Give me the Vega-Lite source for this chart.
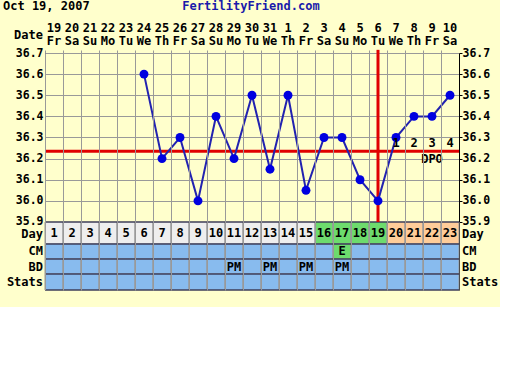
{
  "$schema": "https://vega.github.io/schema/vega-lite/v6.json",
  "width": 414,
  "height": 237,
  "autosize": {"type": "none"},
  "padding": {"left": 45, "top": 53, "right": 41, "bottom": 17},
  "background": "#FFFFCC",
  "config": {
    "view": {"stroke": null},
    "axis": {"labelOverlap": false},
    "text": {"font": "DejaVu Sans Mono", "fontWeight": "bold", "fontSize": 12, "color": "#000000", "baseline": "middle"}
  },
  "datasets": {
    "days": [
      {"day": 1, "date": "19", "dow": "Fr", "phase": "pre", "cm": "", "bd": "", "dpo": ""},
      {"day": 2, "date": "20", "dow": "Sa", "phase": "pre", "cm": "", "bd": "", "dpo": ""},
      {"day": 3, "date": "21", "dow": "Su", "phase": "pre", "cm": "", "bd": "", "dpo": ""},
      {"day": 4, "date": "22", "dow": "Mo", "phase": "pre", "cm": "", "bd": "", "dpo": ""},
      {"day": 5, "date": "23", "dow": "Tu", "phase": "pre", "cm": "", "bd": "", "dpo": ""},
      {"day": 6, "date": "24", "dow": "We", "phase": "pre", "cm": "", "bd": "", "dpo": ""},
      {"day": 7, "date": "25", "dow": "Th", "phase": "pre", "cm": "", "bd": "", "dpo": ""},
      {"day": 8, "date": "26", "dow": "Fr", "phase": "pre", "cm": "", "bd": "", "dpo": ""},
      {"day": 9, "date": "27", "dow": "Sa", "phase": "pre", "cm": "", "bd": "", "dpo": ""},
      {"day": 10, "date": "28", "dow": "Su", "phase": "pre", "cm": "", "bd": "", "dpo": ""},
      {"day": 11, "date": "29", "dow": "Mo", "phase": "pre", "cm": "", "bd": "PM", "dpo": ""},
      {"day": 12, "date": "30", "dow": "Tu", "phase": "pre", "cm": "", "bd": "", "dpo": ""},
      {"day": 13, "date": "31", "dow": "We", "phase": "pre", "cm": "", "bd": "PM", "dpo": ""},
      {"day": 14, "date": "1", "dow": "Th", "phase": "pre", "cm": "", "bd": "", "dpo": ""},
      {"day": 15, "date": "2", "dow": "Fr", "phase": "pre", "cm": "", "bd": "PM", "dpo": ""},
      {"day": 16, "date": "3", "dow": "Sa", "phase": "fertile", "cm": "", "bd": "", "dpo": ""},
      {"day": 17, "date": "4", "dow": "Su", "phase": "fertile", "cm": "E", "bd": "PM", "dpo": ""},
      {"day": 18, "date": "5", "dow": "Mo", "phase": "fertile", "cm": "", "bd": "", "dpo": ""},
      {"day": 19, "date": "6", "dow": "Tu", "phase": "fertile", "cm": "", "bd": "", "dpo": ""},
      {"day": 20, "date": "7", "dow": "We", "phase": "post", "cm": "", "bd": "", "dpo": "1"},
      {"day": 21, "date": "8", "dow": "Th", "phase": "post", "cm": "", "bd": "", "dpo": "2"},
      {"day": 22, "date": "9", "dow": "Fr", "phase": "post", "cm": "", "bd": "", "dpo": "3"},
      {"day": 23, "date": "10", "dow": "Sa", "phase": "post", "cm": "", "bd": "", "dpo": "4"}
    ],
    "temps": [
      {"day": 6, "temp": 36.6},
      {"day": 7, "temp": 36.2},
      {"day": 8, "temp": 36.3},
      {"day": 9, "temp": 36.0},
      {"day": 10, "temp": 36.4},
      {"day": 11, "temp": 36.2},
      {"day": 12, "temp": 36.5},
      {"day": 13, "temp": 36.15},
      {"day": 14, "temp": 36.5},
      {"day": 15, "temp": 36.05},
      {"day": 16, "temp": 36.3},
      {"day": 17, "temp": 36.3},
      {"day": 18, "temp": 36.1},
      {"day": 19, "temp": 36.0},
      {"day": 20, "temp": 36.3},
      {"day": 21, "temp": 36.4},
      {"day": 22, "temp": 36.4},
      {"day": 23, "temp": 36.5}
    ]
  },
  "resolve": {"scale": {"y": "independent"}},
  "layer": [
    {
      "data": {"name": "temps"},
      "mark": {"type": "point", "opacity": 0},
      "encoding": {
        "y": {"field": "temp", "type": "quantitative", "scale": {"domain": [35.5781, 36.7], "nice": false, "zero": false},
              "axis": {"orient": "left", "values": [35.9, 36.0, 36.1, 36.2, 36.3, 36.4, 36.5, 36.6, 36.7], "format": ".1f", "grid": true, "gridColor": "#999999", "gridOpacity": 1, "ticks": false, "labelPadding": 2, "domainColor": "#000000", "labelFont": "DejaVu Sans Mono", "labelFontWeight": "bold", "labelFontSize": 11.5, "labelColor": "#000000", "labelOverlap": false, "title": null}}
      }
    },
    {
      "layer": [
        {
          "data": {"name": "days"},
          "mark": {"type": "rect", "stroke": "#999999", "strokeWidth": 1},
          "encoding": {
            "x": {"field": "day", "type": "ordinal", "scale": {"type": "band", "paddingInner": 0, "paddingOuter": 0},
                  "axis": {"orient": "top", "grid": true, "bandPosition": 0, "gridColor": "#999999", "gridOpacity": 1, "ticks": true, "tickColor": "#999999", "tickSize": 3, "labels": false, "domain": false, "title": null}},
            "y": {"datum": 35.9, "type": "quantitative", "scale": {"domain": [35.5781, 36.7], "nice": false, "zero": false}, "axis": null},
            "y2": {"datum": 35.7959},
            "color": {"field": "phase", "type": "nominal", "scale": {"domain": ["pre", "fertile", "post", "", "E"], "range": ["#EEEEEE", "#6DDB6D", "#FFCC99", "#88BBEE", "#6DDB6D"]}, "legend": null}
          }
        },
        {
          "data": {"name": "days"},
          "mark": {"type": "rect", "stroke": "#999999", "strokeWidth": 1},
          "encoding": {
            "x": {"field": "day", "type": "ordinal"},
            "y": {"datum": 35.7959, "type": "quantitative", "axis": null},
            "y2": {"datum": 35.7249},
            "color": {"field": "cm", "type": "nominal", "legend": null}
          }
        },
        {
          "data": {"name": "days"},
          "mark": {"type": "rect", "stroke": "#999999", "strokeWidth": 1, "fill": "#88BBEE"},
          "encoding": {
            "x": {"field": "day", "type": "ordinal"},
            "y": {"datum": 35.7249, "type": "quantitative", "axis": null},
            "y2": {"datum": 35.6538}
          }
        },
        {
          "data": {"name": "days"},
          "mark": {"type": "rect", "stroke": "#999999", "strokeWidth": 1, "fill": "#88BBEE"},
          "encoding": {
            "x": {"field": "day", "type": "ordinal"},
            "y": {"datum": 35.6538, "type": "quantitative", "axis": null},
            "y2": {"datum": 35.5781}
          }
        },
        {"data": {"values": [{}]}, "mark": {"type": "rule", "color": "#10103A", "strokeWidth": 1.2}, "encoding": {"y": {"datum": 35.9, "type": "quantitative", "axis": null}}},
        {"data": {"values": [{}]}, "mark": {"type": "rule", "color": "#10103A", "strokeWidth": 1.2}, "encoding": {"y": {"datum": 35.7959, "type": "quantitative", "axis": null}}},
        {"data": {"values": [{}]}, "mark": {"type": "rule", "color": "#10103A", "strokeWidth": 1.2}, "encoding": {"y": {"datum": 35.7249, "type": "quantitative", "axis": null}}},
        {"data": {"values": [{}]}, "mark": {"type": "rule", "color": "#10103A", "strokeWidth": 1.2}, "encoding": {"y": {"datum": 35.6538, "type": "quantitative", "axis": null}}},
        {"data": {"values": [{}]}, "mark": {"type": "rule", "color": "#10103A", "strokeWidth": 1.2}, "encoding": {"y": {"datum": 35.5781, "type": "quantitative", "axis": null}}},
        {
          "data": {"name": "days"},
          "mark": {"type": "text", "align": "center"},
          "encoding": {
            "x": {"field": "day", "type": "ordinal", "bandPosition": 0.5},
            "y": {"datum": 35.848, "type": "quantitative", "axis": null},
            "text": {"field": "day"}
          }
        },
        {
          "data": {"name": "days"},
          "transform": [{"filter": "datum.cm != ''"}],
          "mark": {"type": "text", "align": "center"},
          "encoding": {
            "x": {"field": "day", "type": "ordinal", "bandPosition": 0.5},
            "y": {"datum": 35.7604, "type": "quantitative", "axis": null},
            "text": {"field": "cm"}
          }
        },
        {
          "data": {"name": "days"},
          "transform": [{"filter": "datum.bd != ''"}],
          "mark": {"type": "text", "align": "center"},
          "encoding": {
            "x": {"field": "day", "type": "ordinal", "bandPosition": 0.5},
            "y": {"datum": 35.689, "type": "quantitative", "axis": null},
            "text": {"field": "bd"}
          }
        },
        {"data": {"values": [{}]}, "mark": {"type": "rule", "color": "#E00000", "strokeWidth": 3}, "encoding": {"y": {"datum": 36.235, "type": "quantitative", "axis": null}}},
        {
          "data": {"values": [{}]},
          "mark": {"type": "rule", "color": "#E00000", "strokeWidth": 3},
          "encoding": {
            "x": {"datum": 19, "type": "ordinal", "bandPosition": 0.5},
            "y": {"datum": 36.715, "type": "quantitative", "axis": null},
            "y2": {"datum": 35.9}
          }
        },
        {
          "data": {"name": "temps"},
          "mark": {"type": "line", "color": "#2222B0", "strokeWidth": 2},
          "encoding": {
            "x": {"field": "day", "type": "ordinal", "bandPosition": 0.5},
            "y": {"field": "temp", "type": "quantitative", "axis": null}
          }
        },
        {
          "data": {"name": "temps"},
          "mark": {"type": "circle", "color": "#0000E0", "opacity": 1, "size": 80},
          "encoding": {
            "x": {"field": "day", "type": "ordinal", "bandPosition": 0.5},
            "y": {"field": "temp", "type": "quantitative", "axis": null}
          }
        },
        {
          "data": {"name": "days"},
          "transform": [{"filter": "datum.dpo != ''"}],
          "mark": {"type": "text", "align": "center"},
          "encoding": {
            "x": {"field": "day", "type": "ordinal", "bandPosition": 0.5},
            "y": {"datum": 36.275, "type": "quantitative", "axis": null},
            "text": {"field": "dpo"}
          }
        },
        {
          "data": {"values": [{}]},
          "mark": {"type": "text", "align": "center", "text": "DPO"},
          "encoding": {
            "x": {"datum": 22, "type": "ordinal", "bandPosition": 0.5},
            "y": {"datum": 36.197, "type": "quantitative", "axis": null}
          }
        },
        {
          "data": {"name": "days"},
          "mark": {"type": "text", "align": "center"},
          "encoding": {
            "x": {"field": "day", "type": "ordinal", "bandPosition": 0.5},
            "y": {"datum": 36.817, "type": "quantitative", "axis": null},
            "text": {"field": "date"}
          }
        },
        {
          "data": {"name": "days"},
          "mark": {"type": "text", "align": "center"},
          "encoding": {
            "x": {"field": "day", "type": "ordinal", "bandPosition": 0.5},
            "y": {"datum": 36.755, "type": "quantitative", "axis": null},
            "text": {"field": "dow"}
          }
        },
        {
          "data": {"values": [{}]},
          "mark": {"type": "text", "align": "right", "dx": -11, "text": "Date"},
          "encoding": {
            "x": {"datum": 1, "type": "ordinal", "bandPosition": 0.5},
            "y": {"datum": 36.786, "type": "quantitative", "axis": null}
          }
        },
        {
          "data": {"values": [{}]},
          "mark": {"type": "text", "align": "left", "dx": -51, "text": "Oct 19, 2007"},
          "encoding": {
            "x": {"datum": 1, "type": "ordinal", "bandPosition": 0.5},
            "y": {"datum": 36.9234, "type": "quantitative", "axis": null}
          }
        },
        {
          "data": {"values": [{}]},
          "mark": {"type": "text", "align": "center", "dx": -1, "text": "FertilityFriend.com", "color": "#1A1AAA"},
          "encoding": {
            "x": {"datum": 12, "type": "ordinal", "bandPosition": 0.5},
            "y": {"datum": 36.9234, "type": "quantitative", "axis": null}
          }
        },
        {"data": {"values": [{}]}, "mark": {"type": "text", "align": "right", "dx": -11, "dy": 1, "text": "Day"}, "encoding": {"x": {"datum": 1, "type": "ordinal", "bandPosition": 0.5}, "y": {"datum": 35.848, "type": "quantitative", "axis": null}}},
        {"data": {"values": [{}]}, "mark": {"type": "text", "align": "right", "dx": -11, "text": "CM"}, "encoding": {"x": {"datum": 1, "type": "ordinal", "bandPosition": 0.5}, "y": {"datum": 35.7604, "type": "quantitative", "axis": null}}},
        {"data": {"values": [{}]}, "mark": {"type": "text", "align": "right", "dx": -11, "text": "BD"}, "encoding": {"x": {"datum": 1, "type": "ordinal", "bandPosition": 0.5}, "y": {"datum": 35.689, "type": "quantitative", "axis": null}}},
        {"data": {"values": [{}]}, "mark": {"type": "text", "align": "right", "dx": -11, "text": "Stats"}, "encoding": {"x": {"datum": 1, "type": "ordinal", "bandPosition": 0.5}, "y": {"datum": 35.616, "type": "quantitative", "axis": null}}},
        {"data": {"values": [{}]}, "mark": {"type": "text", "align": "left", "dx": 12, "dy": 1, "text": "Day"}, "encoding": {"x": {"datum": 23, "type": "ordinal", "bandPosition": 0.5}, "y": {"datum": 35.848, "type": "quantitative", "axis": null}}},
        {"data": {"values": [{}]}, "mark": {"type": "text", "align": "left", "dx": 12, "text": "CM"}, "encoding": {"x": {"datum": 23, "type": "ordinal", "bandPosition": 0.5}, "y": {"datum": 35.7604, "type": "quantitative", "axis": null}}},
        {"data": {"values": [{}]}, "mark": {"type": "text", "align": "left", "dx": 12, "text": "BD"}, "encoding": {"x": {"datum": 23, "type": "ordinal", "bandPosition": 0.5}, "y": {"datum": 35.689, "type": "quantitative", "axis": null}}},
        {"data": {"values": [{}]}, "mark": {"type": "text", "align": "left", "dx": 12, "text": "Stats"}, "encoding": {"x": {"datum": 23, "type": "ordinal", "bandPosition": 0.5}, "y": {"datum": 35.616, "type": "quantitative", "axis": null}}}
      ]
    },
    {
      "data": {"name": "temps"},
      "mark": {"type": "point", "opacity": 0},
      "encoding": {
        "y": {"field": "temp", "type": "quantitative", "scale": {"domain": [35.5781, 36.7], "nice": false, "zero": false},
              "axis": {"orient": "right", "values": [35.9, 36.0, 36.1, 36.2, 36.3, 36.4, 36.5, 36.6, 36.7], "format": ".1f", "grid": false, "ticks": true, "tickSize": 3, "tickColor": "#000000", "labelPadding": 0, "domainColor": "#000000", "labelFont": "DejaVu Sans Mono", "labelFontWeight": "bold", "labelFontSize": 11.5, "labelColor": "#000000", "labelOverlap": false, "title": null}}
      }
    }
  ]
}
